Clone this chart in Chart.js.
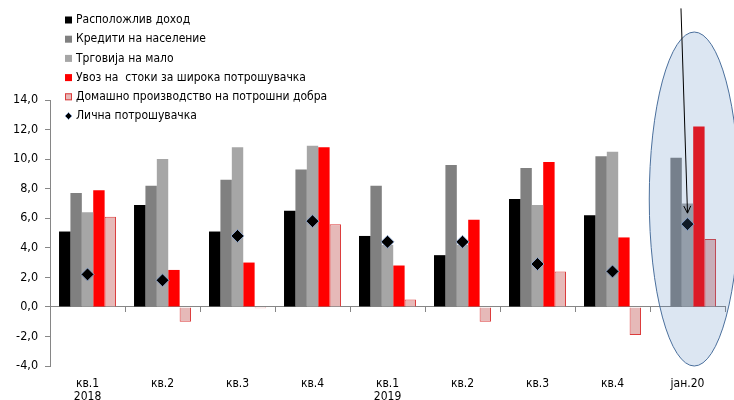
<!DOCTYPE html>
<html>
<head>
<meta charset="utf-8">
<script src="https://cdn.jsdelivr.net/npm/chart.js@4/dist/chart.umd.min.js"></script>
<style>
  html, body { margin: 0; padding: 0; background: #fff; }
  #wrap { width: 734px; height: 400px; }
</style>
</head>
<body>
<div id="wrap"><canvas id="consChart" width="734" height="400"></canvas></div>
<script>
const categories = [['кв.1', '2018'], 'кв.2', 'кв.3', 'кв.4', ['кв.1', '2019'], 'кв.2', 'кв.3', 'кв.4', 'јан.20']
const disposableIncome = [5.1, 6.9, 5.1, 6.5, 4.8, 3.5, 7.3, 6.2, null]
const householdCredits = [7.7, 8.2, 8.6, 9.3, 8.2, 9.6, 9.4, 10.2, 10.1]
const retailTrade = [6.4, 10.0, 10.8, 10.9, 4.2, 4.2, 6.9, 10.5, 7.0]
const consumerImports = [7.9, 2.5, 3.0, 10.8, 2.8, 5.9, 9.8, 4.7, 12.2]
const domesticProduction = [6.1, -1.0, -0.1, 5.6, 0.5, -1.0, 2.4, -1.9, 4.6]
const privateConsumption = [2.2, 1.8, 4.8, 5.8, 4.4, 4.4, 2.9, 2.4, 5.6]
const yTicks = [-4, -2, 0, 2, 4, 6, 8, 10, 12, 14]

const FONT = '"DejaVu Sans Condensed", "DejaVu Sans"'
Chart.defaults.font.family = FONT
Chart.defaults.color = '#000'

// legend drawn as a vertical list inside the plot
const listLegend = {
    id: 'listLegend',
    afterDraw(chart) {
        const {ctx} = chart
        ctx.save()
        ctx.font = '12px ' + FONT
        ctx.textBaseline = 'middle'
        chart.data.datasets.forEach((ds, i) => {
            const y = 20 + i * 19.2
            if (ds.type === 'line') {
                ctx.fillStyle = '#000'
                ctx.strokeStyle = ds.borderColor
                ctx.beginPath()
                ctx.moveTo(68.5, y - 3.5); ctx.lineTo(72, y); ctx.lineTo(68.5, y + 3.5); ctx.lineTo(65, y)
                ctx.closePath(); ctx.fill(); ctx.stroke()
            } else {
                ctx.fillStyle = ds.backgroundColor
                ctx.fillRect(65, y - 3.5, 7, 7)
                if (ds.legendBorder) {
                    ctx.strokeStyle = ds.legendBorder
                    ctx.lineWidth = 1
                    ctx.strokeRect(65.5, y - 3, 6, 6)
                }
            }
            ctx.fillStyle = '#000'
            ctx.fillText(ds.label, 76, y)
        })
        ctx.restore()
    }
}

// highlight ellipse over the last period and the arrow pointing at it
const highlight = {
    id: 'highlight',
    afterDatasetsDraw(chart) {
        const {ctx, scales: {x, y}} = chart
        const last = categories.length - 1
        const cx = x.getPixelForValue(last)
        const cw = x.getPixelForValue(1) - x.getPixelForValue(0)
        const left = cx - 0.51 * cw, right = cx + 0.69 * cw
        const top = y.getPixelForValue(18.6), bottom = y.getPixelForValue(-4)
        ctx.save()
        ctx.beginPath()
        ctx.ellipse((left + right) / 2, (top + bottom) / 2, (right - left) / 2, (bottom - top) / 2, 0, 0, Math.PI * 2)
        ctx.fillStyle = 'rgba(79,129,189,0.2)'
        ctx.fill()
        ctx.strokeStyle = '#4a6f9c'
        ctx.lineWidth = 1
        ctx.stroke()
        const pt = chart.getDatasetMeta(5).data[last]
        const sx = cx - 0.087 * cw, sy = y.getPixelForValue(20.2)
        const ex = pt.x, ey = pt.y - 11
        ctx.strokeStyle = '#000'
        ctx.beginPath()
        ctx.moveTo(sx, sy); ctx.lineTo(ex, ey)
        ctx.stroke()
        const a = Math.atan2(ey - sy, ex - sx)
        ctx.beginPath()
        ctx.moveTo(ex - 8 * Math.cos(a - 0.45), ey - 8 * Math.sin(a - 0.45))
        ctx.lineTo(ex, ey)
        ctx.lineTo(ex - 8 * Math.cos(a + 0.45), ey - 8 * Math.sin(a + 0.45))
        ctx.stroke()
        ctx.restore()
    }
}

const barBase = {type: 'bar', order: 1, borderWidth: 0}

new Chart(document.getElementById('consChart'), {
    data: {
        labels: categories,
        datasets: [
            {...barBase, label: 'Расположлив доход', data: disposableIncome, backgroundColor: '#000000'},
            {...barBase, label: 'Кредити на население', data: householdCredits, backgroundColor: '#808080'},
            {...barBase, label: 'Трговија на мало', data: retailTrade, backgroundColor: '#a6a6a6'},
            {...barBase, label: 'Увоз на  стоки за широка потрошувачка', data: consumerImports, backgroundColor: '#ff0000'},
            {...barBase, label: 'Домашно производство на потрошни добра', data: domesticProduction,
                backgroundColor: '#e6b9b8', borderColor: '#dc3c3c', borderWidth: 1, legendBorder: '#dc3c3c'},
            {type: 'line', order: 0, label: 'Лична потрошувачка', data: privateConsumption, showLine: false,
                pointStyle: 'rectRot', pointRadius: 6.5, pointHoverRadius: 6.5,
                backgroundColor: '#000000', borderColor: '#8ea4c8', borderWidth: 1}
        ]
    },
    options: {
        responsive: false,
        animation: false,
        events: [],
        datasets: {
            bar: {categoryPercentage: 0.76, barPercentage: 1}
        },
        layout: {
            padding: {left: 6, right: 9, top: 100, bottom: 0}
        },
        plugins: {
            legend: {display: false},
            tooltip: {enabled: false}
        },
        scales: {
            x: {
                type: 'category',
                position: {y: 0},
                offset: true,
                grid: {offset: true, drawOnChartArea: false, drawTicks: true, tickLength: 5, color: '#868686'},
                border: {color: '#868686'},
                ticks: {display: false}
            },
            x2: {
                type: 'category',
                position: 'bottom',
                labels: categories,
                offset: true,
                grid: {display: false, drawTicks: false},
                border: {display: false},
                ticks: {font: {size: 12, lineHeight: 1.05}, padding: 12, maxRotation: 0, autoSkip: false},
                afterFit(scale) { scale.height = 34 }
            },
            y: {
                min: yTicks[0],
                max: yTicks[yTicks.length - 1],
                afterBuildTicks(scale) { scale.ticks = yTicks.map(v => ({value: v})) },
                grid: {
                    color: c => c.tick && c.tick.value === 0 ? '#868686' : 'rgba(0,0,0,0)',
                    tickColor: '#868686',
                    tickLength: 5,
                    drawOnChartArea: false
                },
                border: {color: '#868686'},
                ticks: {
                    font: {size: 12.5},
                    padding: 7,
                    callback: v => v.toFixed(1).replace('.', ',')
                }
            }
        }
    },
    plugins: [listLegend, highlight]
})
</script>
</body>
</html>
